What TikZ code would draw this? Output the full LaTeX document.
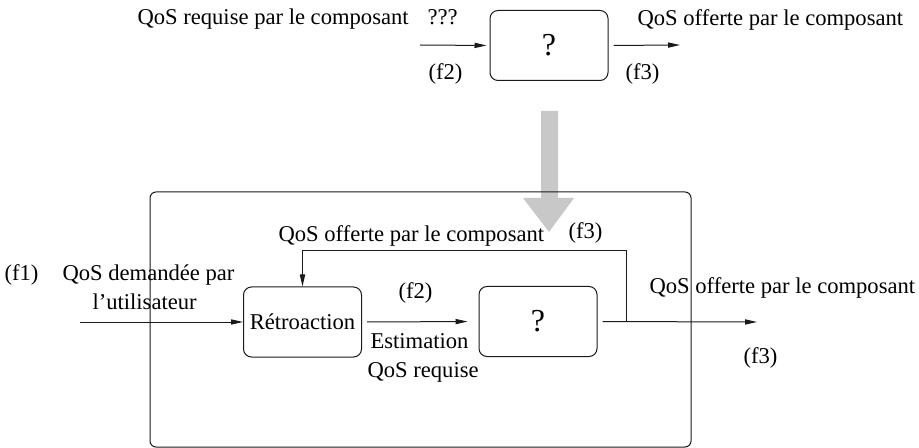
\documentclass[tikz,border=0pt]{standalone}
\usepackage{fontspec}
\setmainfont{Liberation Serif}
\usepackage{tikz}
\usetikzlibrary{positioning,arrows.meta,calc}
\definecolor{qosgray}{HTML}{C8C8C8}
\definecolor{qosline}{HTML}{1A1A1A}
\newcommand{\bigq}{{\fontsize{16}{19}\selectfont ?}}
\tikzset{
    every picture/.style={line width=0.5pt},
    box/.style={draw=qosline,rounded corners=4pt,minimum width=59pt,minimum height=35pt,inner sep=0pt},
    frame/.style={draw=qosline,rounded corners=3pt,minimum width=270.5pt,minimum height=127.5pt,inner sep=0pt},
    lbl/.style={inner sep=0pt,anchor=base west},
    flow/.style={draw=qosline,-{Triangle[length=6pt,width=2.6pt]}},
}

\begin{document}
\begin{tikzpicture}[x=0.5pt,y=-0.5pt,font=\fontsize{11.3}{13.5}\selectfont]
    \useasboundingbox (0,0) rectangle (919,448);

    % transformation arrow
    \fill[qosgray] (541,111) -- (558,111) -- (558,198) -- (574,198)
        -- (549,232) -- (523,198) -- (541,198) -- cycle;

    % component alone
    \node[box] (top) at (549,45.5) {\bigq};
    \coordinate (topin) at (420,45);
    \coordinate (topout) at (680,45);
    \node[lbl] (reqtop) at (137,25) {QoS requise par le composant};
    \node[lbl] (qqq) at (427,25) {???};
    \node[lbl] (f2top) at (428,80) {(f2)};
    \node[lbl] (offtop) at (637,26) {QoS offerte par le composant};
    \node[lbl] (f3top) at (625,80) {(f3)};

    % component with feedback
    \node[frame] (frame) at (420.5,319.5) {};
    \node[box] (retro) at (302.5,322) {Rétroaction};
    \node[box] (comp) at (538,321.5) {\bigq};
    \coordinate (bin) at (80,322);
    \coordinate (bout) at (757,322);
    \coordinate (split) at (626,322);
    \coordinate (fbtop) at (626,251);

    \node[lbl] (f1) at (4,280) {(f1)};
    \node[lbl] (dem) at (62,280) {QoS demandée par};
    \node[lbl] (user) at (92,309) {l’utilisateur};
    \node[lbl] (f2mid) at (398,299) {(f2)};
    \node[lbl] (est) at (370,348) {Estimation};
    \node[lbl] (req) at (367,377) {QoS requise};
    \node[lbl] (offfb) at (278,242) {QoS offerte par le composant};
    \node[lbl] (f3fb) at (568,239) {(f3)};
    \node[lbl] (offout) at (649,293) {QoS offerte par le composant};
    \node[lbl] (f3out) at (743,363) {(f3)};

    \path[flow,shorten >=1.5pt] (topin) -- (top.west);
    \path[flow,shorten <=2.5pt] (top.east) -- (topout);
    \path[flow] (bin) -- (retro.west);
    \path[flow,shorten <=2.5pt,shorten >=5.5pt] (retro.east) -- (comp.west);
    \path[flow,shorten <=2.5pt] (comp.east) -- (bout);
    \path[flow] (split) -- (fbtop) -| (retro.north);
\end{tikzpicture}
\end{document}
